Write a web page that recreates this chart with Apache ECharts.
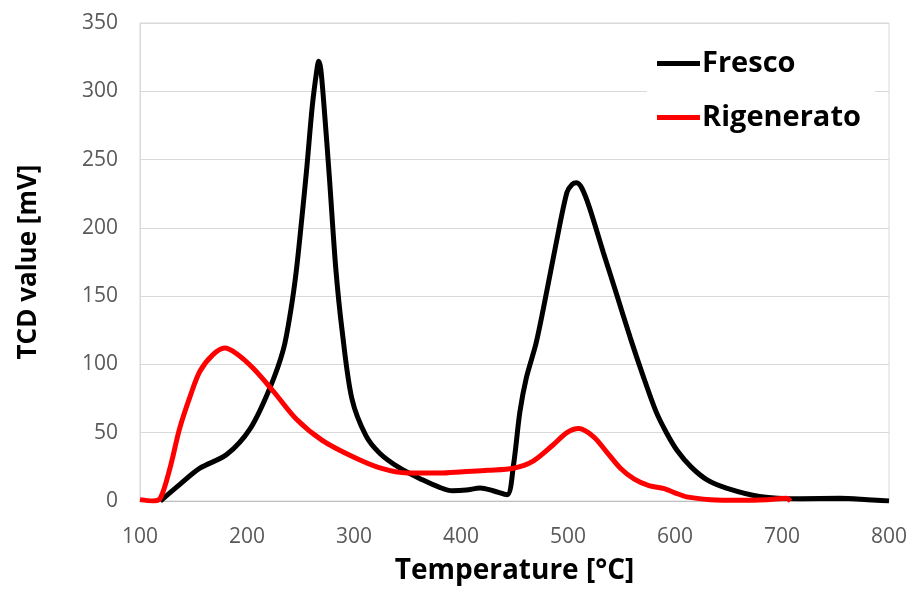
<!DOCTYPE html>
<html>
<head>
<meta charset="utf-8">
<script src="https://cdn.jsdelivr.net/npm/echarts@6/dist/echarts.min.js"></script>
<style>
  html, body { margin: 0; padding: 0; background: #fff; }
  #chart { width: 915px; height: 590px; }
</style>
</head>
<body>
<div id="chart"></div>
<script>
// temperature [°C] / TCD value [mV]
const frescoT = [119, 137, 156, 181, 203, 221, 234, 241, 246, 251, 256, 261, 265, 267, 269, 272, 277, 283, 289, 298, 311, 324, 343, 364, 380, 392, 405, 418, 430, 443, 449, 455, 461, 470, 477, 489, 499, 504, 508, 513, 520, 533, 546, 558, 570, 582, 592, 602, 615, 630, 648, 679, 717, 754, 780, 800];
const frescoV = [0, 12, 24, 34, 53, 82, 111, 140, 168, 205, 245, 289, 314, 322, 316, 289, 237, 170, 124, 75, 48, 35, 24, 15.5, 10, 7.5, 8, 9.5, 7.5, 4.6, 26, 65, 90, 115, 141, 189, 226, 232, 233, 229, 215, 182, 150, 120, 92, 66, 50, 37, 25, 15.5, 9.5, 3.4, 1.7, 2, 1, 0];

const rigenT = [100, 112, 119, 128, 137, 147, 156, 168, 179, 190, 206, 225, 246, 271, 300, 325, 350, 380, 402, 425, 449, 467, 486, 499, 510, 524, 536, 549, 562, 575, 590, 600, 611, 633, 660, 686, 704, 708];
const rigenV = [1, 0, 2, 24, 53, 77, 95, 107, 112, 108, 97, 80, 60, 44, 32, 24, 20.5, 20.5, 21.5, 22.5, 24, 29, 41, 50, 53, 47, 36, 24, 16, 11.5, 9, 6, 3, 1, 0.5, 1, 2, 0];

const seriesNames = ['Fresco', 'Rigenerato'];
const seriesColors = ['#000000', '#ff0000'];

function zip(xs, ys) {
  return xs.map((x, i) => [x, ys[i]]);
}

const font = '"Open Sans", sans-serif';
const myChart = echarts.init(document.getElementById('chart'));

const option = {
  animation: false,
  backgroundColor: '#ffffff',
  grid: {
    left: 140,
    right: 26,
    top: 23,
    bottom: 87,
    show: true,
    borderColor: '#d9d9d9',
    borderWidth: 1
  },
  legend: {
    data: seriesNames,
    orient: 'vertical',
    left: 647,
    top: 45,
    icon: 'rect',
    itemWidth: 43,
    itemHeight: 5,
    itemGap: 25,
    backgroundColor: '#ffffff',
    padding: [4, 14, 4, 10],
    textStyle: {
      color: '#000',
      fontFamily: font,
      fontWeight: 'bold',
      fontSize: 29,
      padding: [0, 0, 0, -3]
    }
  },
  xAxis: {
    type: 'value',
    min: 100,
    max: 800,
    interval: 100,
    name: 'Temperature [°C]',
    nameLocation: 'middle',
    nameGap: 56,
    nameTextStyle: { color: '#000', fontFamily: font, fontWeight: 'bold', fontSize: 28 },
    axisLine: { lineStyle: { color: '#bfbfbf', width: 1 } },
    axisTick: { show: false },
    axisLabel: { color: '#595959', fontFamily: font, fontSize: 21, margin: 26 },
    splitLine: { show: false }
  },
  yAxis: {
    type: 'value',
    min: 0,
    max: 350,
    interval: 50,
    name: 'TCD value [mV]',
    nameLocation: 'middle',
    nameGap: 98,
    nameTextStyle: { color: '#000', fontFamily: font, fontWeight: 'bold', fontSize: 26 },
    axisLine: { show: true, lineStyle: { color: '#d9d9d9', width: 1 } },
    axisTick: { show: false },
    axisLabel: { color: '#595959', fontFamily: font, fontSize: 21, margin: 22 },
    splitLine: { show: true, lineStyle: { color: '#d9d9d9', width: 1 } }
  },
  series: [
    {
      name: seriesNames[0],
      type: 'line',
      data: zip(frescoT, frescoV),
      smooth: 0.3,
      showSymbol: false,
      itemStyle: { color: seriesColors[0] },
      lineStyle: { color: seriesColors[0], width: 5 }
    },
    {
      name: seriesNames[1],
      type: 'line',
      data: zip(rigenT, rigenV),
      smooth: 0.3,
      showSymbol: false,
      itemStyle: { color: seriesColors[1] },
      lineStyle: { color: seriesColors[1], width: 5 }
    }
  ]
};
myChart.setOption(option);
</script>
</body>
</html>
